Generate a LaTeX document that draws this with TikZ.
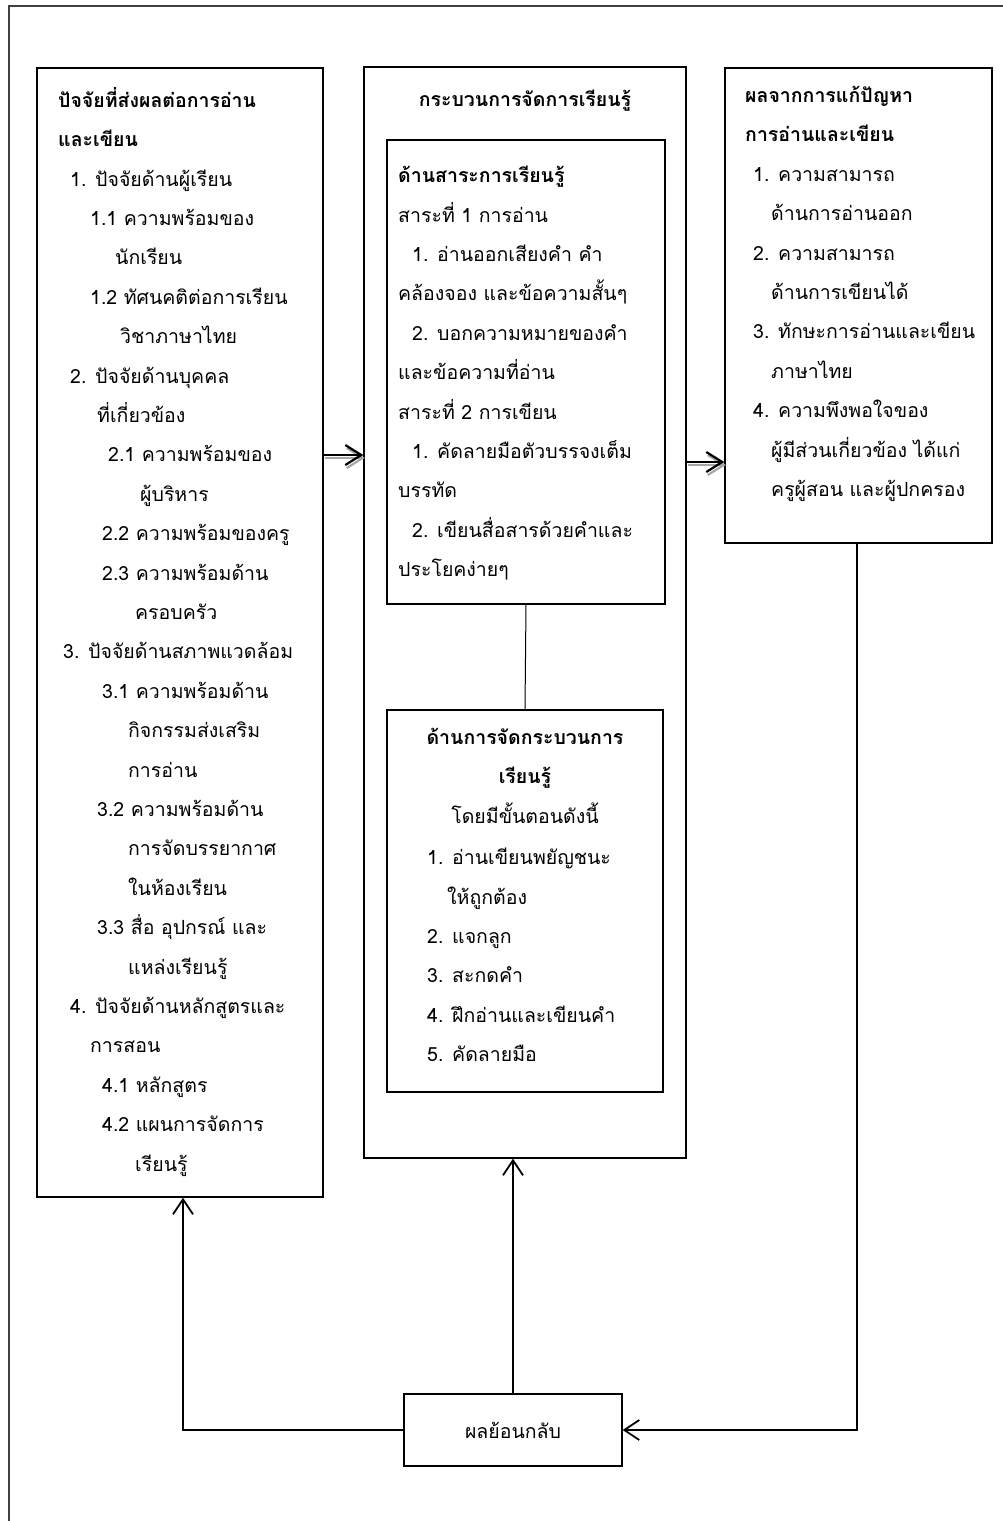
\documentclass[tikz,border=0pt]{standalone}
\usepackage{fontspec}
\newfontfamily\thaifont[Script=Thai]{Loma}
\usepackage{tikz}
\usetikzlibrary{positioning,arrows.meta}
\newcommand{\bodyfont}{\thaifont\fontsize{19.5}{39.4}\selectfont}
\tikzset{
	box/.style={rectangle, draw, line width=1.3pt, inner sep=0pt},
	bodytext/.style={inner sep=0pt, align=left, anchor=north west, font=\bodyfont},
	headtext/.style={inner sep=0pt, align=center, font=\bodyfont\bfseries},
	fbarrow/.style={-{Straight Barb[length=15pt,width=20pt,line width=1.8pt]}, line width=1.8pt},
	bigarrow/.style={-{Straight Barb[length=16pt,width=20pt,line width=2.2pt]}, line width=2.2pt,
		preaction={draw=black!35, line width=2.2pt, -{Straight Barb[length=16pt,width=20pt,line width=2.2pt]}, transform canvas={shift={(1.5pt,-3pt)}}}}
}
\begin{document}
\begin{tikzpicture}[x=1pt,y=-1pt]
		\useasboundingbox (0,0) rectangle (1003,1521);
		\draw[line width=2pt, black!75] (9,1521) -- (9,6) -- (1003,6);
		
		%Boxes
		\node[box, minimum width=286pt, minimum height=1129pt] at (180,632.5) (factor) {};
		\node[box, minimum width=322pt, minimum height=1091pt] at (525,612.5) (process) {};
		\node[box, minimum width=278pt, minimum height=464pt] at (526,372) (content) {};
		\node[box, minimum width=276pt, minimum height=382pt] at (525,901) (method) {};
		\node[box, minimum width=267pt, minimum height=475pt] at (858.5,305.5) (result) {};
		\node[box, minimum width=218pt, minimum height=72pt] at (513,1430) (feedback) {};
		
		%Texts
		\node[bodytext] at (58,87) (factortxt) {\textbf{ปัจจัยที่ส่งผลต่อการอ่าน}\\
			\textbf{และเขียน}\\
			\hspace*{12pt}1. ปัจจัยด้านผู้เรียน\\
			\hspace*{32pt}1.1 ความพร้อมของ\\
			\hspace*{57pt}นักเรียน\\
			\hspace*{32pt}1.2 ทัศนคติต่อการเรียน\\
			\hspace*{62pt}วิชาภาษาไทย\\
			\hspace*{12pt}2. ปัจจัยด้านบุคคล\\
			\hspace*{39pt}ที่เกี่ยวข้อง\\
			\hspace*{50pt}2.1 ความพร้อมของ\\
			\hspace*{82pt}ผู้บริหาร\\
			\hspace*{44pt}2.2 ความพร้อมของครู\\
			\hspace*{44pt}2.3 ความพร้อมด้าน\\
			\hspace*{77pt}ครอบครัว\\
			\hspace*{5pt}3. ปัจจัยด้านสภาพแวดล้อม\\
			\hspace*{44pt}3.1 ความพร้อมด้าน\\
			\hspace*{70pt}กิจกรรมส่งเสริม\\
			\hspace*{70pt}การอ่าน\\
			\hspace*{39pt}3.2 ความพร้อมด้าน\\
			\hspace*{70pt}การจัดบรรยากาศ\\
			\hspace*{70pt}ในห้องเรียน\\
			\hspace*{39pt}3.3 สื่อ อุปกรณ์ และ\\
			\hspace*{70pt}แหล่งเรียนรู้\\
			\hspace*{12pt}4. ปัจจัยด้านหลักสูตรและ\\
			\hspace*{32pt}การสอน\\
			\hspace*{44pt}4.1 หลักสูตร\\
			\hspace*{44pt}4.2 แผนการจัดการ\\
			\hspace*{77pt}เรียนรู้};
		
		\node[headtext] at (525,101) (processtxt) {กระบวนการจัดการเรียนรู้};
		
		\node[bodytext] at (398,166) (contenttxt) {\textbf{ด้านสาระการเรียนรู้}\\
			สาระที่ 1 การอ่าน\\
			\hspace*{14pt}1. อ่านออกเสียงคำ คำ\\
			คล้องจอง และข้อความสั้นๆ\\
			\hspace*{14pt}2. บอกความหมายของคำ\\
			และข้อความที่อ่าน\\
			สาระที่ 2 การเขียน\\
			\hspace*{14pt}1. คัดลายมือตัวบรรจงเต็ม\\
			บรรทัด\\
			\hspace*{14pt}2. เขียนสื่อสารด้วยคำและ\\
			ประโยคง่ายๆ};
		
		\node[headtext, anchor=north] at (525,728) (methodhead) {ด้านการจัดกระบวนการ\\
			เรียนรู้\\
			\mdseries โดยมีขั้นตอนดังนี้};
		\node[bodytext] at (427,848) (methodtxt) {1. อ่านเขียนพยัญชนะ\\
			\hspace*{20pt}ให้ถูกต้อง\\
			2. แจกลูก\\
			3. สะกดคำ\\
			4. ฝึกอ่านและเขียนคำ\\
			5. คัดลายมือ};
		
		\node[bodytext] at (745,86) (resulttxt) {\textbf{ผลจากการแก้ปัญหา}\\
			\textbf{การอ่านและเขียน}\\
			\hspace*{8pt}1. ความสามารถ\\
			\hspace*{26pt}ด้านการอ่านออก\\
			\hspace*{8pt}2. ความสามารถ\\
			\hspace*{26pt}ด้านการเขียนได้\\
			\hspace*{8pt}3. ทักษะการอ่านและเขียน\\
			\hspace*{26pt}ภาษาไทย\\
			\hspace*{8pt}4. ความพึงพอใจของ\\
			\hspace*{26pt}ผู้มีส่วนเกี่ยวข้อง ได้แก่\\
			\hspace*{26pt}ครูผู้สอน และผู้ปกครอง};
		
		\node[font=\bodyfont, inner sep=0pt] at (feedback) (feedbacktxt) {ผลย้อนกลับ};
		
		%Lines
		\draw[line width=1pt] (content.south) -- (method.north);
		\draw[bigarrow] (factor.east |- 0,455) -- (process.west |- 0,455);
		\draw[bigarrow] (process.east |- 0,462) -- (result.west |- 0,462);
		
		\draw[fbarrow] (feedback.north) -- (feedback.north |- process.south);
		\draw[fbarrow] (feedback.west) -- (feedback.west -| 183,0) -- (183,0 |- factor.south);
		\draw[fbarrow] (result.south -| 857,0) -- (857,0 |- feedback.east) -- (feedback.east);
		
	\end{tikzpicture}
\end{document}
